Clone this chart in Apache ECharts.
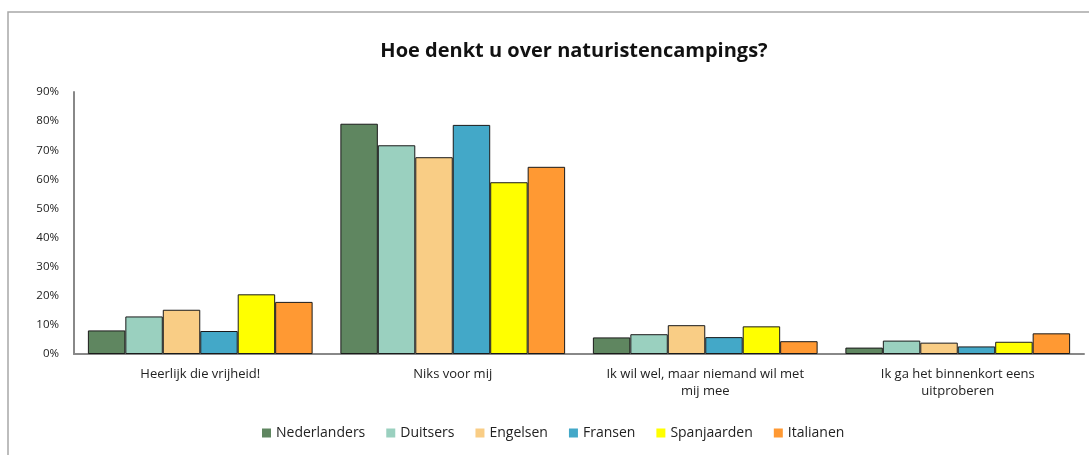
<!DOCTYPE html>
<html>
<head>
<meta charset="utf-8">
<script src="https://cdn.jsdelivr.net/npm/echarts@6/dist/echarts.min.js"></script>
<style>
html,body{margin:0;padding:0;background:#fff;}
#chart{width:1089px;height:455px;}
</style>
</head>
<body>
<div id="chart"></div>
<script>
const categories = [
  'Heerlijk die vrijheid!',
  'Niks voor mij',
  'Ik wil wel, maar niemand wil met\nmij mee',
  'Ik ga het binnenkort eens\nuitproberen'
];
const seriesNames = ['Nederlanders', 'Duitsers', 'Engelsen', 'Fransen', 'Spanjaarden', 'Italianen'];
const nederlanders = [8.1, 79.1, 5.7, 2.2];
const duitsers     = [12.9, 71.7, 6.8, 4.6];
const engelsen     = [15.2, 67.6, 9.9, 3.9];
const fransen      = [7.9, 78.7, 5.8, 2.6];
const spanjaarden  = [20.5, 59.0, 9.5, 4.2];
const italianen    = [17.9, 64.3, 4.4, 7.1];
const seriesValues = [nederlanders, duitsers, engelsen, fransen, spanjaarden, italianen];
const colors = ['#5f8660', '#9ad0bf', '#f9cd85', '#43a8c8', '#ffff00', '#ff9933'];
const yTicks = { min: 0, max: 90, interval: 10 };

const FONT = '"Open Sans", sans-serif';
const chart = echarts.init(document.getElementById('chart'));
chart.setOption({
  animation: false,
  textStyle: { fontFamily: FONT },
  graphic: [{
    type: 'rect',
    shape: { x: 8, y: 12, width: 1200, height: 600 },
    style: { fill: 'none', stroke: '#a8a8a8', lineWidth: 1.5 },
    silent: true
  }],
  title: {
    text: 'Hoe denkt u over naturistencampings?',
    left: 569, top: 36, textAlign: 'center',
    textStyle: { fontFamily: FONT, fontSize: 20, fontWeight: 'bold', color: '#111' }
  },
  legend: {
    data: seriesNames,
    bottom: 10, left: 257,
    itemWidth: 9, itemHeight: 9, itemGap: 21,
    icon: 'rect',
    itemStyle: { borderWidth: 0 },
    textStyle: { fontFamily: FONT, fontSize: 14, color: '#222' }
  },
  grid: { left: 74, right: 5, top: 92, bottom: 101, containLabel: false },
  xAxis: {
    type: 'category',
    data: categories,
    axisLine: { lineStyle: { color: '#888', width: 2 } },
    axisTick: { show: false },
    axisLabel: { fontFamily: FONT, fontSize: 13, color: '#222', margin: 12, lineHeight: 17, interval: 0 }
  },
  yAxis: {
    type: 'value',
    min: yTicks.min, max: yTicks.max, interval: yTicks.interval,
    axisLine: { show: true, lineStyle: { color: '#888', width: 2 } },
    axisTick: { show: false },
    splitLine: { show: false },
    axisLabel: { fontFamily: FONT, fontSize: 11.5, color: '#222', margin: 15, formatter: '{value}%' }
  },
  series: seriesNames.map((name, i) => ({
    name: name,
    type: 'bar',
    data: seriesValues[i],
    barGap: '0%',
    barCategoryGap: '11%',
    itemStyle: { color: colors[i], borderColor: '#1a1a1a', borderWidth: 1 }
  }))
});
</script>
</body>
</html>
